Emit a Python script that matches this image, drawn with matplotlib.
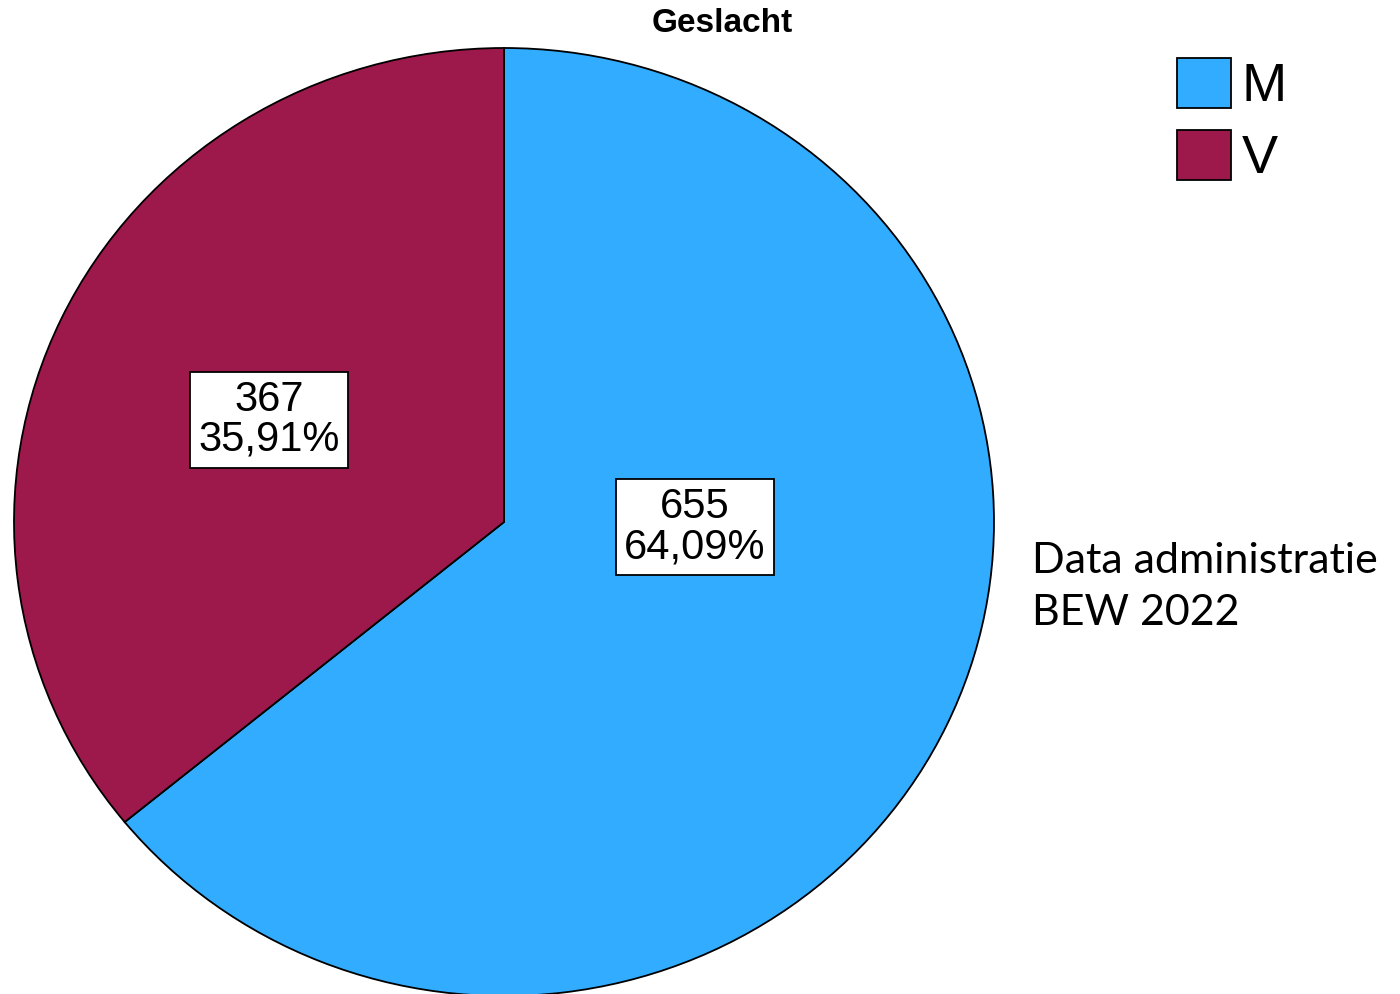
import matplotlib
matplotlib.use('Agg')
import matplotlib.pyplot as plt

# data
categories = ['M', 'V']
counts = [655, 367]
percents = ['64,09%', '35,91%']
colors = ['#31acfe', '#9d194b']

W, H = 1400, 994
fig = plt.figure(figsize=(W / 100, H / 100), dpi=100)
fig.patch.set_facecolor('white')

# pie is slightly squashed vertically in the reference, so keep aspect auto
left, right, top, bottom = 14, 994, 48, 996
ax = fig.add_axes([left / W, 1 - bottom / H, (right - left) / W, (bottom - top) / H])
wedges, _ = ax.pie(counts, colors=colors, startangle=90, counterclock=False,
                   radius=1.0,
                   wedgeprops=dict(edgecolor='black', linewidth=1.3))
for w in wedges:
    w.set_clip_on(False)
ax.set_aspect('auto')
ax.set_xlim(-1, 1)
ax.set_ylim(-1, 1)
ax.axis('off')

# value labels (positions in axes fraction)
label_pos = [(0.695, 0.4947), (0.260, 0.6076)]
for (x, y), n, p in zip(label_pos, counts, percents):
    ax.text(x, y, f'{n}\n{p}', transform=ax.transAxes, ha='center', va='center',
            fontsize=30, family='Liberation Sans', linespacing=1.0,
            bbox=dict(boxstyle='square,pad=0.2', facecolor='white',
                      edgecolor='black', linewidth=1.3))

fig.text(722 / W, 1 - 23 / H, 'Geslacht', ha='center', va='center',
         fontsize=24, fontweight='bold', family='Liberation Sans')

fig.legend(wedges, categories, loc='upper left',
           bbox_to_anchor=(1177 / W, 1 - 58 / H), frameon=False,
           prop=dict(family='Liberation Sans', size=39),
           handlelength=1.0, handleheight=1.04, handletextpad=0.2,
           labelspacing=0.32, borderpad=0, borderaxespad=0)

fig.text(1032 / W, 1 - 587 / H, 'Data administratie\nBEW 2022', ha='left',
         va='center', fontsize=31, family='Lato', linespacing=1.42)

fig.savefig('out.png', dpi=100)
